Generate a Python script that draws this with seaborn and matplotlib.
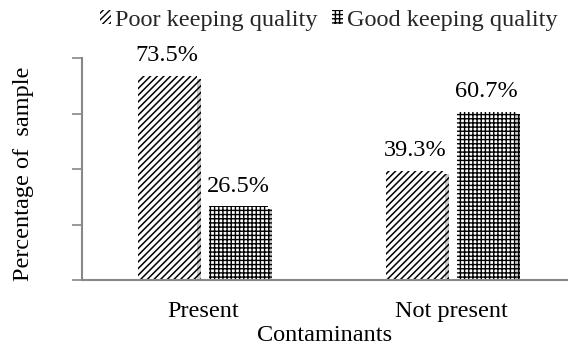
import matplotlib
matplotlib.use("Agg")
import matplotlib.pyplot as plt
import matplotlib.patheffects as pe
from matplotlib.patches import Patch
import seaborn as sns
import pandas as pd

# Data
categories = ["Present", "Not present"]
poor_quality = [73.5, 39.3]
good_quality = [26.5, 60.7]
series_names = ["Poor keeping quality", "Good keeping quality"]

df = pd.DataFrame({
    "Contaminants": categories * 2,
    "value": poor_quality + good_quality,
    "series": [series_names[0]] * 2 + [series_names[1]] * 2,
})

sns.set_theme(style="white")
plt.rcParams["font.family"] = ["Liberation Serif", "DejaVu Serif"]
plt.rcParams["hatch.linewidth"] = 1.0
FS = 17.5

fig = plt.figure(figsize=(5.68, 3.49), dpi=100)
ax = fig.add_axes([82 / 568, 69 / 349, 1 - 82 / 568, (280 - 58) / 349])

sns.barplot(data=df, x="Contaminants", y="value", hue="series",
            order=categories, hue_order=series_names,
            width=0.577, gap=0.18, ax=ax, legend=False,
            palette=["white", "white"], errorbar=None)

hatches = ["/////", "++++"]
hatch_lw = [1.1, 1.0]
for i, bar in enumerate(ax.patches):
    k = i // len(categories)
    bar.set_hatch(hatches[k])
    if hasattr(bar, "set_hatch_linewidth"):
        bar.set_hatch_linewidth(hatch_lw[k])
    bar.set_facecolor("white")
    bar.set_edgecolor("black")
    bar.set_linewidth(0)
    bar.set_path_effects([
        pe.SimplePatchShadow(offset=(3, -2), shadow_rgbFace="#999999", alpha=0.5),
        pe.Normal(),
    ])

# Value labels
for container in ax.containers:
    ax.bar_label(container, labels=[f"{v.get_height():.1f}%" for v in container],
                 padding=7, fontsize=FS, color="black")

ax.set_ylim(0, 80)
ax.set_yticks([0, 20, 40, 60, 80])
ax.set_yticklabels([])
ax.set_xlim(-0.488, 1.472)
ax.tick_params(axis="y", direction="out", length=7, width=1.2, color="#888888", left=True)
ax.tick_params(axis="x", length=0, labelsize=FS, pad=15, colors="black")

for s in ["top", "right"]:
    ax.spines[s].set_visible(False)
for s in ["left", "bottom"]:
    ax.spines[s].set_color("#888888")
    ax.spines[s].set_linewidth(1.5)

ax.set_xlabel("Contaminants", fontsize=FS, labelpad=2, color="black")
ax.set_ylabel("Percentage of  sample", fontsize=FS, color="black")
ax.yaxis.set_label_coords(-0.098, 0.48)

handles = [Patch(facecolor="white", edgecolor="black", linewidth=0, hatch=h)
           for h in hatches]
fig.legend(handles, series_names, loc="upper center", bbox_to_anchor=(0.579, 1.035),
           ncol=2, frameon=False, prop={"family": ["Liberation Serif"], "size": FS},
           handlelength=0.45, handleheight=0.5, handletextpad=0.15, columnspacing=0.6)

fig.savefig("out.png", dpi=100, facecolor="white")
